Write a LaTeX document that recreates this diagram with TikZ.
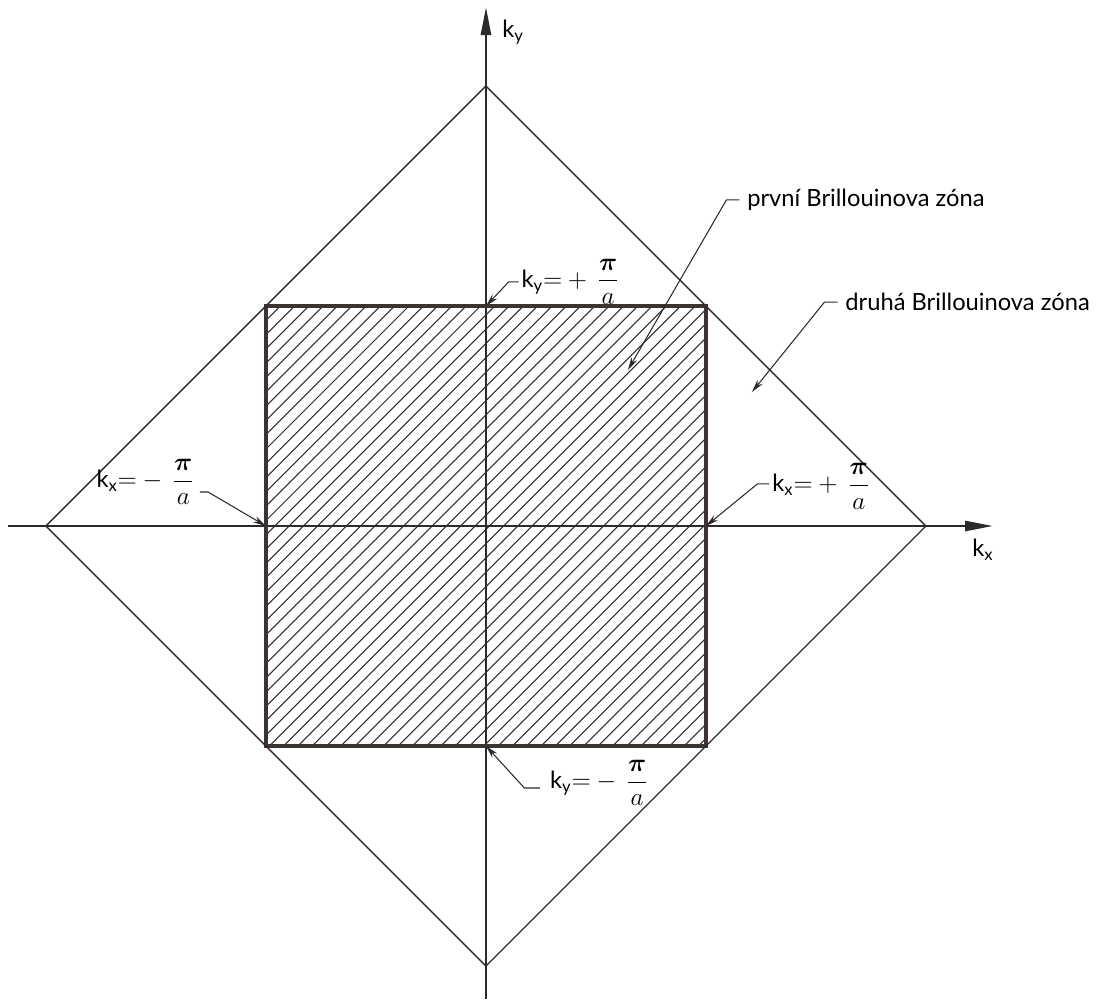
\documentclass[tikz,border=0pt]{standalone}
\usepackage{amsmath,bm}
\usepackage{fontspec}
\setmainfont{Lato}
\usetikzlibrary{arrows.meta,positioning,calc}
\definecolor{InkGrey}{HTML}{2B2B2B}
\definecolor{EdgeBrown}{HTML}{3E3330}

\begin{document}
\begin{tikzpicture}[x=4.4cm,y=4.4cm,>=Stealth,
  axis/.style={line width=1.5pt,InkGrey,-{Triangle[length=5.6mm,width=2mm]}},
  zoneedge/.style={line width=0.8pt,InkGrey},
  firstzone/.style={line width=2.2pt,EdgeBrown},
  hatchline/.style={line width=0.6pt,InkGrey},
  leader/.style={line width=0.6pt,InkGrey,-{Stealth[length=2.6mm,width=1.3mm]}},
  lab/.style={inner sep=0pt,font=\fontsize{13.5}{16}\selectfont}]
\useasboundingbox (-2.209,-2.150) rectangle (2.791,2.391);

% hatched first zone
\begin{scope}
\clip (-1,-1) rectangle (1,1);
\foreach \d in {-2,-1.935,...,2.01}
  \draw[hatchline] ({\d-1},-1) -- ({\d+1},1);
\end{scope}

% axes
\draw[axis] (0,-2.15) -- (0,2.359);
\draw[axis] (-2.173,0) -- (2.305,0);
\node[lab] (kylab) at (0.123,2.245) {$\text{k}_{\text{y}}$};
\node[lab] (kxlab) at (2.259,-0.109) {$\text{k}_{\text{x}}$};

% zones
\draw[firstzone] (-1,-1) rectangle (1,1);
\draw[zoneedge] (0,2) -- (2,0) -- (0,-2) -- (-2,0) -- cycle;

\coordinate (Xm) at (-1,0);
\coordinate (Xp) at (1,0);
\coordinate (Yp) at (0,1);
\coordinate (Ym) at (0,-1);
\coordinate (firstpt) at (0.645,0.709);
\coordinate (secondpt) at (1.209,0.609);

% labels of the zone edges
\node[lab,anchor=east] (kxminus) at (-1.323,0.2) {$\text{k}_{\text{x}}{=}-\,\dfrac{\bm{\pi}}{a}$};
\node[lab,anchor=west] (kxplus) at (1.30,0.18) {$\text{k}_{\text{x}}{=}+\,\dfrac{\bm{\pi}}{a}$};
\node[lab,anchor=west] (kyplus) at (0.16,1.11) {$\text{k}_{\text{y}}{=}+\,\dfrac{\bm{\pi}}{a}$};
\node[lab,anchor=west] (kyminus) at (0.29,-1.168) {$\text{k}_{\text{y}}{=}-\,\dfrac{\bm{\pi}}{a}$};
\node[lab,anchor=west] (firstlab) at (1.186,1.482) {první Brillouinova zóna};
\node[lab,anchor=west] (secondlab) at (1.632,1.018) {druhá Brillouinova zóna};

\draw[leader] ([xshift=1mm,yshift=-2mm]kxminus.east) -- ++(0.037,0) -- (Xm);
\draw[leader] ([xshift=-0.5mm,yshift=0.5mm]kxplus.west) -- ++(-0.055,0) -- (Xp);
\draw[leader] ([xshift=-0.5mm]kyplus.west) -- ++(-0.045,0) -- (Yp);
\draw[leader] ([xshift=-2mm,yshift=-1mm]kyminus.west) -- ++(-0.07,0) -- (Ym);
\draw[leader] ([xshift=-1.5mm]firstlab.west) -- ++(-0.059,0) -- (firstpt);
\draw[leader] ([xshift=-1.5mm]secondlab.west) -- ++(-0.059,0) -- (secondpt);
\end{tikzpicture}
\end{document}
